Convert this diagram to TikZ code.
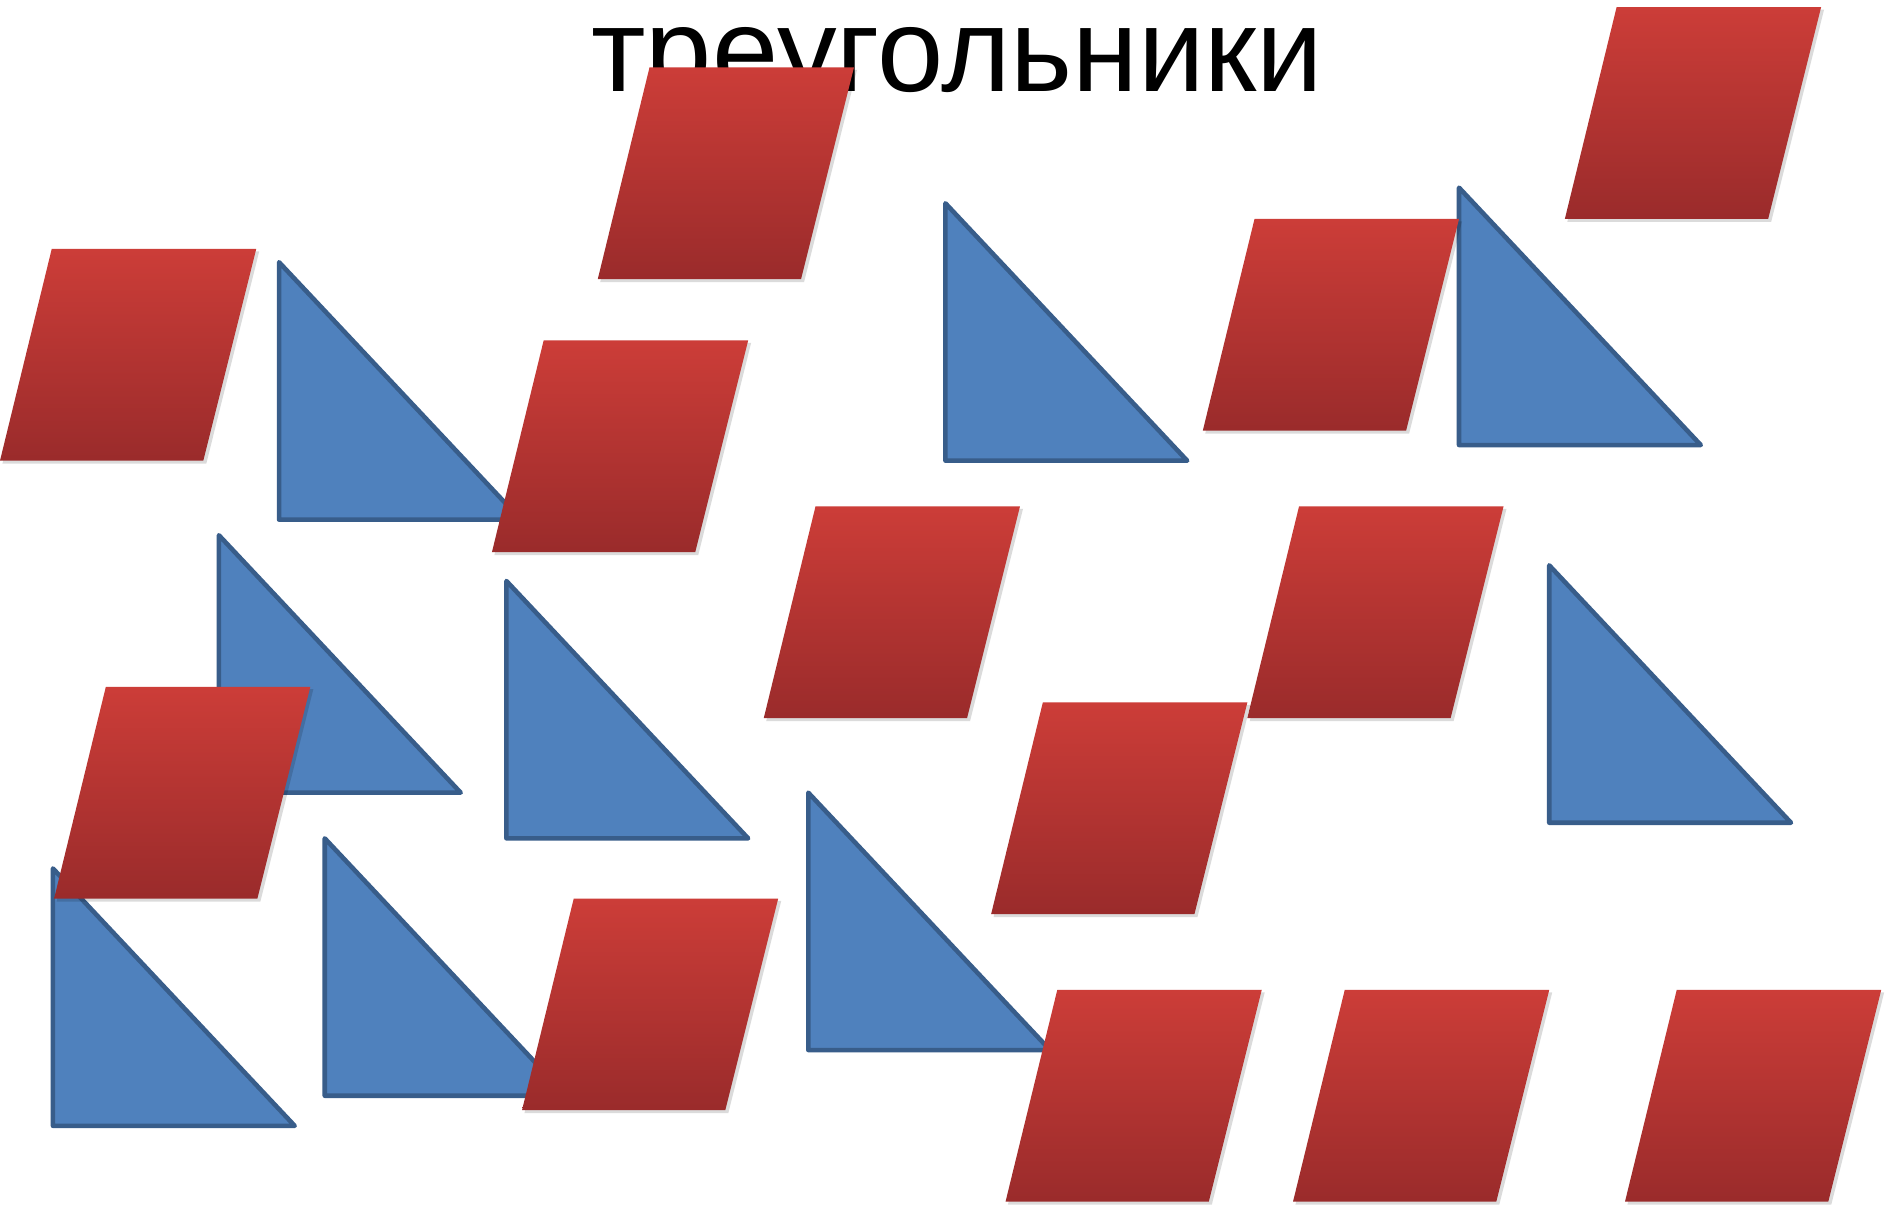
\documentclass[tikz,border=0pt]{standalone}
\usepackage{fontspec}
\setmainfont{Liberation Sans}
\definecolor{parTop}{HTML}{CC3D38}
\definecolor{parBot}{HTML}{9A2B2B}
\definecolor{triFill}{HTML}{4F81BD}
\definecolor{triLine}{HTML}{385D8A}
\begin{document}
\begin{tikzpicture}[x=1pt,y=-1pt,
  tri/.style={fill=triFill,draw=triLine,line width=3.8pt,line join=round},
  para/.style={top color=parTop,bottom color=parBot,draw=none},
  parashadow/.style={fill=black,opacity=0.14,draw=none}]
\useasboundingbox (0,0) rectangle (1568,1002);
\fill[white] (0,0) rectangle (1568,1002);
% title
\node[anchor=base,inner sep=0pt,font=\fontsize{99}{110}\selectfont] (title) at (796,76) {треугольники};
% triangles: top vertex x, top y
\foreach \x/\y in {232/218,182/445,421/483,786/169,1213/156,1288/470,44/722,270/697,672/659}{
  \draw[tri] (\x,\y) -- (\x,\y+214) -- (\x+201,\y+214) -- cycle;
}
% parallelograms: bottom-left x, bottom y
\foreach \x/\y in {0/383,497/232,409/459,1000/358,1301/182,635/597,1037/597,45/747,824/760,434/923,836/999,1075/999,1351/999}{
  \fill[parashadow] (\x+2,\y+2.5) -- (\x+171.5,\y+2.5) -- (\x+215.5,\y-174) -- (\x+45,\y-174) -- cycle;
  \shade[para] (\x,\y) -- (\x+169,\y) -- (\x+213,\y-176) -- (\x+43,\y-176) -- cycle;
}
\end{tikzpicture}
\end{document}
